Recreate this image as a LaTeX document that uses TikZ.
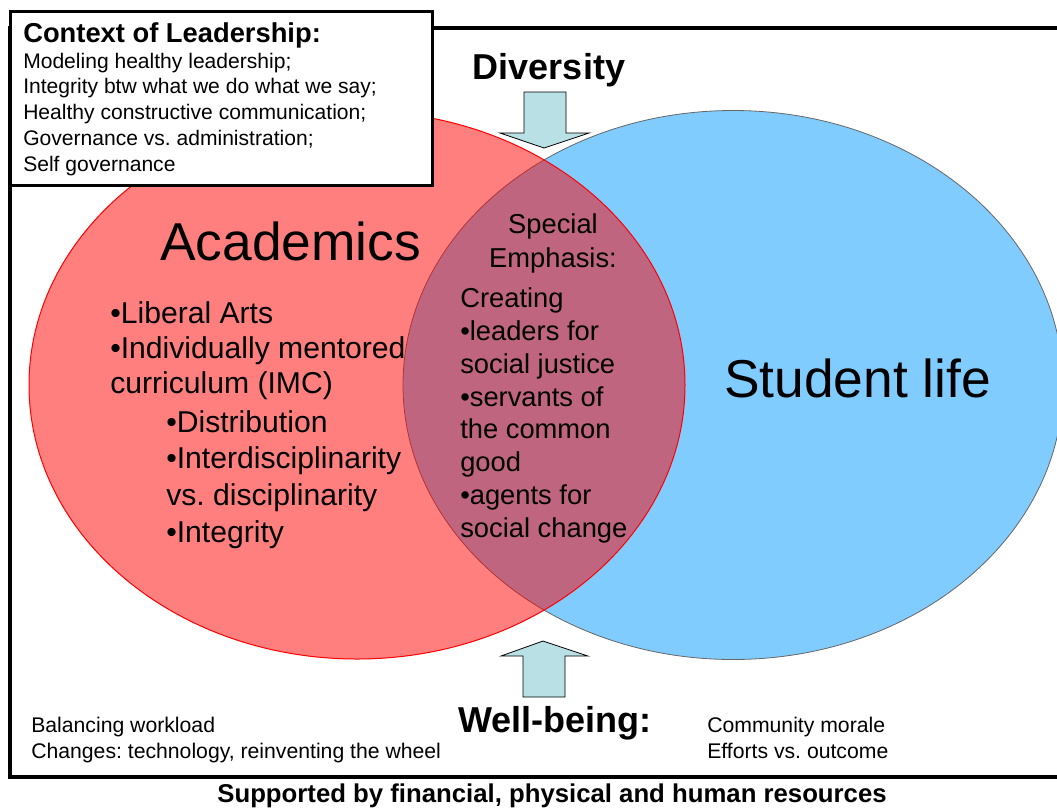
\documentclass[tikz,border=0pt]{standalone}
\usepackage{fontspec}
\setmainfont{Liberation Sans}
\usetikzlibrary{positioning}
\definecolor{acadred}{RGB}{255,0,0}
\definecolor{lifeblue}{RGB}{128,204,255}
\definecolor{arrowcyan}{RGB}{185,224,228}
\newcommand{\sizept}[2]{\fontsize{#1}{#2}\selectfont}
\frenchspacing

\begin{document}
\begin{tikzpicture}[x=0.75pt,y=-0.75pt,
  txt/.style={inner sep=0pt, align=left},
  blockarrow/.style={draw=black, fill=arrowcyan, line width=0.6pt, line join=miter}]
\useasboundingbox (0,0) rectangle (1057,808);
% outer frame
\draw[line width=3pt] (10,28) rectangle (1075,777);
% the two sets
\filldraw[fill=lifeblue, draw=black!60, line width=0.6pt] (733,385) ellipse [x radius=330, y radius=274.5];
\filldraw[fill=acadred, fill opacity=0.5, draw=acadred, line width=0.75pt] (357,385) ellipse [x radius=328, y radius=274];
% context box (multi-line nodes sit on their last baseline)
\draw[line width=2.25pt, fill=white] (10,11) rectangle (432,185);
\node[txt, anchor=base west, font=\sizept{20.5}{22}\bfseries] (ctxtitle) at (23,42) {Context of Leadership:};
\node[txt, anchor=base west, font=\sizept{15.8}{19.4}] (ctxlist) at (23,171.5)
  {Modeling healthy leadership;\\Integrity btw what we do what we say;\\Healthy constructive communication;\\Governance vs. administration;\\Self governance};
% arrows
\draw[blockarrow] (524,92) -- (566,92) -- (566,133) -- (589,133) -- (544,148) -- (500,133) -- (524,133) -- cycle;
\draw[blockarrow] (523,697) -- (565,697) -- (565,656) -- (588,656) -- (543,641) -- (501,656) -- (523,656) -- cycle;
\node[txt, anchor=base, font=\sizept{27}{30}\bfseries] (diversity) at (549,79) {Diversity};
\node[txt, anchor=base west, font=\sizept{27}{30}\bfseries] (wellbeing) at (458,732) {Well-being:};
% set labels
\node[txt, anchor=base west, font=\sizept{40}{44}] (academics) at (160,260) {Academics};
\node[txt, anchor=base west, font=\sizept{40}{44}] (studentlife) at (724,397) {Student life};
\node[txt, anchor=base west, font=\sizept{22.6}{26.25}] (acadlist) at (110,393)
  {•Liberal Arts\\•Individually mentored\\curriculum (IMC)};
\node[txt, anchor=base west, font=\sizept{22.6}{27.5}] (imclist) at (166,542)
  {•Distribution\\•Interdisciplinarity\\vs. disciplinarity\\•Integrity};
% overlap
\node[txt, align=center, anchor=base, font=\sizept{20.5}{25.5}] (special) at (553,267) {Special\\Emphasis:};
\node[txt, anchor=base west, font=\sizept{20.5}{24.54}] (creating) at (460,537)
  {Creating\\•leaders for\\social justice\\•servants of\\the common\\good\\•agents for\\social change};
% bottom
\node[txt, anchor=base west, font=\sizept{15.9}{19.5}] (workload) at (31,758)
  {Balancing workload\\Changes: technology, reinventing the wheel};
\node[txt, anchor=base west, font=\sizept{15.9}{19.5}] (morale) at (707,758)
  {Community morale\\Efforts vs. outcome};
\node[txt, anchor=base, font=\sizept{19.3}{22}\bfseries] (support) at (552,802)
  {Supported by financial, physical and human resources};
\end{tikzpicture}
\end{document}
